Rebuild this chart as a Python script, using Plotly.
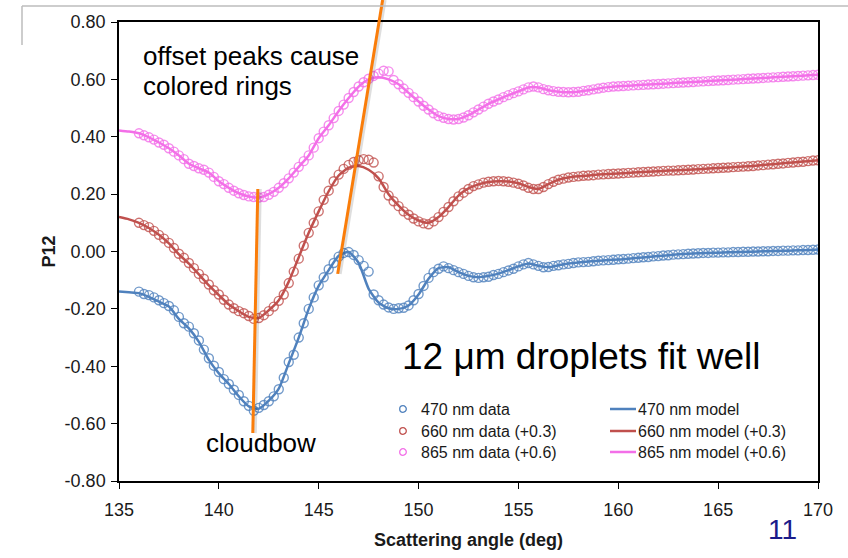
import numpy as np
import plotly.graph_objects as go

# ---------------- data ----------------
wavelengths = ["470 nm", "660 nm", "865 nm"]
offsets = [0.0, 0.3, 0.6]
colors = ["#4F81BD", "#C0504D", "#F36FE8"]

# measured P12 (raw, before offset), angles 136.00 .. 170.00 step 0.25 deg
data_start, data_step = 136.0, 0.25
data_470 = [
    -0.140, -0.148, -0.152, -0.160,
    -0.170, -0.180, -0.190, -0.205,
    -0.228, -0.250, -0.262, -0.285,
    -0.310, -0.342, -0.372, -0.398,
    -0.420, -0.445, -0.462, -0.482,
    -0.500, -0.522, -0.538, -0.555,
    -0.545, -0.535, -0.522, -0.505,
    -0.480, -0.440, -0.385, -0.360,
    -0.300, -0.250, -0.200, -0.160,
    -0.118, -0.090, -0.062, -0.040,
    -0.018, -0.005, -0.002, -0.012,
    -0.030, -0.050, -0.070, -0.150,
    -0.170, -0.185, -0.195, -0.200,
    -0.198, -0.196, -0.188, -0.170,
    -0.148, -0.120, -0.092, -0.072,
    -0.060, -0.052, -0.058, -0.065,
    -0.072, -0.078, -0.085, -0.090,
    -0.092, -0.090, -0.088, -0.082,
    -0.078, -0.072, -0.066, -0.060,
    -0.052, -0.045, -0.040, -0.045,
    -0.050, -0.055, -0.054, -0.050,
    -0.048, -0.045, -0.043, -0.040,
    -0.038, -0.037, -0.036, -0.034,
    -0.032, -0.031, -0.030, -0.029,
    -0.027, -0.026, -0.025, -0.023,
    -0.022, -0.020, -0.019, -0.017,
    -0.016, -0.014, -0.013, -0.011,
    -0.010, -0.009, -0.008, -0.007,
    -0.006, -0.005, -0.005, -0.004,
    -0.004, -0.003, -0.003, -0.002,
    -0.002, -0.001, -0.001, 0.000,
    0.000, 0.001, 0.001, 0.002,
    0.002, 0.003, 0.003, 0.004,
    0.004, 0.005, 0.005, 0.006,
    0.007,
]
data_660 = [
    -0.200, -0.208, -0.215, -0.228,
    -0.242, -0.255, -0.270, -0.288,
    -0.308, -0.322, -0.340, -0.358,
    -0.378, -0.395, -0.415, -0.435,
    -0.450, -0.468, -0.485, -0.498,
    -0.508, -0.515, -0.525, -0.535,
    -0.532, -0.522, -0.508, -0.492,
    -0.472, -0.450, -0.410, -0.370,
    -0.325, -0.280, -0.235, -0.200,
    -0.160, -0.120, -0.088, -0.055,
    -0.032, -0.012, 0.002, 0.012,
    0.018, 0.022, 0.020, 0.010,
    -0.038, -0.075, -0.105, -0.125,
    -0.142, -0.160, -0.172, -0.185,
    -0.195, -0.202, -0.205, -0.195,
    -0.180, -0.162, -0.145, -0.125,
    -0.108, -0.095, -0.082, -0.072,
    -0.066, -0.060, -0.057, -0.055,
    -0.054, -0.055, -0.057, -0.060,
    -0.064, -0.070, -0.078, -0.082,
    -0.082, -0.075, -0.065, -0.057,
    -0.050, -0.046, -0.042, -0.040,
    -0.038, -0.036, -0.035, -0.034,
    -0.032, -0.031, -0.030, -0.029,
    -0.028, -0.027, -0.026, -0.025,
    -0.024, -0.023, -0.022, -0.021,
    -0.020, -0.019, -0.018, -0.018,
    -0.017, -0.016, -0.015, -0.014,
    -0.013, -0.012, -0.011, -0.010,
    -0.009, -0.008, -0.007, -0.006,
    -0.005, -0.004, -0.003, -0.002,
    0.000, 0.001, 0.003, 0.004,
    0.006, 0.007, 0.009, 0.010,
    0.012, 0.013, 0.015, 0.017,
    0.018,
]
data_865 = [
    -0.188, -0.195, -0.202, -0.210,
    -0.220, -0.228, -0.240, -0.252,
    -0.265, -0.278, -0.294, -0.302,
    -0.310, -0.315, -0.325, -0.340,
    -0.355, -0.365, -0.378, -0.388,
    -0.397, -0.403, -0.408, -0.410,
    -0.412, -0.410, -0.402, -0.392,
    -0.378, -0.362, -0.345, -0.325,
    -0.305, -0.285, -0.265, -0.238,
    -0.205, -0.182, -0.160, -0.135,
    -0.110, -0.088, -0.065, -0.044,
    -0.025, -0.010, 0.002, 0.012,
    0.020, 0.030, 0.028, -0.002,
    -0.017, -0.032, -0.047, -0.062,
    -0.077, -0.092, -0.105, -0.118,
    -0.128, -0.134, -0.138, -0.140,
    -0.138, -0.133, -0.125, -0.115,
    -0.105, -0.095, -0.085, -0.077,
    -0.070, -0.062, -0.055, -0.048,
    -0.042, -0.035, -0.028, -0.025,
    -0.028, -0.034, -0.038, -0.041,
    -0.043, -0.044, -0.045, -0.044,
    -0.043, -0.040, -0.038, -0.035,
    -0.032, -0.029, -0.027, -0.025,
    -0.024, -0.023, -0.022, -0.021,
    -0.020, -0.019, -0.018, -0.017,
    -0.016, -0.015, -0.014, -0.013,
    -0.012, -0.011, -0.010, -0.009,
    -0.008, -0.007, -0.006, -0.005,
    -0.004, -0.003, -0.002, -0.001,
    0.000, 0.001, 0.002, 0.003,
    0.004, 0.005, 0.006, 0.007,
    0.008, 0.009, 0.010, 0.011,
    0.012, 0.013, 0.014, 0.015,
    0.016,
]

# model P12 (raw, before offset), angles 135.0 .. 170.0 step 0.5 deg
model_start, model_step = 135.0, 0.5
model_470 = [
    -0.139, -0.142, -0.145, -0.158, -0.175, -0.192, -0.235, -0.268,
    -0.315, -0.378, -0.425, -0.462, -0.505, -0.540, -0.548, -0.520,
    -0.478, -0.390, -0.300, -0.200, -0.120, -0.065, -0.015, -0.002,
    -0.040, -0.130, -0.178, -0.198, -0.200, -0.188, -0.150, -0.095,
    -0.058, -0.055, -0.072, -0.085, -0.090, -0.085, -0.077, -0.065,
    -0.052, -0.042, -0.050, -0.055, -0.048, -0.042, -0.038, -0.035,
    -0.032, -0.030, -0.028, -0.025, -0.022, -0.019, -0.016, -0.013,
    -0.010, -0.008, -0.006, -0.005, -0.004, -0.003, -0.002, -0.001,
    0.000, 0.001, 0.002, 0.003, 0.004, 0.005, 0.007,
]
model_660 = [
    -0.180, -0.188, -0.200, -0.218, -0.242, -0.272, -0.310, -0.342,
    -0.380, -0.418, -0.452, -0.485, -0.508, -0.528, -0.532, -0.505,
    -0.470, -0.405, -0.320, -0.235, -0.160, -0.090, -0.035, -0.008,
    -0.002, -0.015, -0.045, -0.100, -0.140, -0.172, -0.192, -0.200,
    -0.180, -0.145, -0.105, -0.080, -0.066, -0.058, -0.055, -0.056,
    -0.062, -0.075, -0.082, -0.065, -0.050, -0.042, -0.038, -0.035,
    -0.032, -0.030, -0.028, -0.026, -0.024, -0.022, -0.020, -0.018,
    -0.017, -0.015, -0.013, -0.011, -0.009, -0.007, -0.005, -0.003,
    0.000, 0.003, 0.006, 0.009, 0.012, 0.015, 0.018,
]
model_865 = [
    -0.178, -0.182, -0.188, -0.202, -0.220, -0.240, -0.265, -0.294,
    -0.310, -0.325, -0.355, -0.378, -0.397, -0.408, -0.412, -0.400,
    -0.378, -0.345, -0.305, -0.265, -0.205, -0.160, -0.110, -0.065,
    -0.025, 0.000, 0.007, 0.000, -0.017, -0.047, -0.077, -0.105,
    -0.128, -0.138, -0.138, -0.125, -0.105, -0.085, -0.070, -0.055,
    -0.042, -0.028, -0.028, -0.038, -0.043, -0.045, -0.043, -0.038,
    -0.032, -0.027, -0.024, -0.022, -0.020, -0.018, -0.016, -0.014,
    -0.012, -0.010, -0.008, -0.006, -0.004, -0.002, 0.000, 0.002,
    0.004, 0.006, 0.008, 0.010, 0.012, 0.014, 0.016,
]

data_series = [data_470, data_660, data_865]
model_series = [model_470, model_660, model_865]

x_ticks = [135, 140, 145, 150, 155, 160, 165, 170]
y_ticks = [-0.8, -0.6, -0.4, -0.2, 0.0, 0.2, 0.4, 0.6, 0.8]

FONT = "Liberation Sans, Arial, sans-serif"

W, H, L, R, T, B = 848, 558, 119, 30, 22, 77
pw, ph = W - L - R, H - T - B
px = lambda p: (p - L) / pw
py = lambda p: (H - B - p) / ph

fig = go.Figure()

def label(wl, off, kind):
    return f"{wl} {kind}" + (f" (+{off:g})" if off else "")

for wl, off, col, vals in zip(wavelengths, offsets, colors, data_series):
    xs = data_start + data_step * np.arange(len(vals))
    fig.add_trace(go.Scatter(
        x=xs, y=np.array(vals) + off, mode="markers",
        name=label(wl, off, "data"), showlegend=False,
        marker=dict(symbol="circle-open", size=9, color=col, opacity=0.8,
                    line=dict(width=1.4, color=col)),
    ))

for wl, off, col, vals in zip(wavelengths, offsets, colors, model_series):
    xs = model_start + model_step * np.arange(len(vals))
    fig.add_trace(go.Scatter(
        x=xs, y=np.array(vals) + off, mode="lines",
        name=label(wl, off, "model"), showlegend=False,
        line=dict(color=col, width=2.5, shape="spline", smoothing=0.6),
    ))

# ---- manual two-column legend ----
row_y = [409, 431, 452]
for i, (wl, off, col) in enumerate(zip(wavelengths, offsets, colors)):
    yy = py(row_y[i])
    fig.add_shape(type="circle", xref="paper", yref="paper",
                  xsizemode="pixel", ysizemode="pixel",
                  xanchor=px(403), yanchor=yy, x0=-3.3, x1=3.3, y0=-3.3, y1=3.3,
                  line=dict(color=col, width=1.3))
    fig.add_annotation(text=label(wl, off, "data"), x=px(419), y=yy,
                       xref="paper", yref="paper", xanchor="left", yanchor="middle",
                       showarrow=False, font=dict(family=FONT, size=16, color="#1a1a1a"))
    fig.add_shape(type="line", xref="paper", yref="paper",
                  x0=px(610), x1=px(636), y0=yy, y1=yy,
                  line=dict(color=col, width=2.5))
    fig.add_annotation(text=label(wl, off, "model"), x=px(636), y=yy,
                       xref="paper", yref="paper", xanchor="left", yanchor="middle",
                       showarrow=False, font=dict(family=FONT, size=16, color="#1a1a1a"))

orange = "#FA7D0A"
shadow = "rgba(0,0,0,0.13)"
# cloudbow marker line (data coords)
for dx, col, w in [(0.1, shadow, 4), (0, orange, 3)]:
    fig.add_shape(type="line", xref="x", yref="y",
                  x0=141.95 + dx, y0=0.218, x1=141.70 + dx, y1=-0.633,
                  line=dict(color=col, width=w))
# offset peaks line (extends above the plot)
for dx, col, w in [(0.1, shadow, 4), (0, orange, 3)]:
    fig.add_shape(type="line", xref="x", yref="paper",
                  x0=145.95 + dx, y0=(-0.078 + 0.8) / 1.6,
                  x1=148.20 + dx, y1=1.048,
                  line=dict(color=col, width=w))

# slide frame fragments
fig.add_shape(type="line", xref="paper", yref="paper", x0=px(22), y0=py(6),
              x1=px(850), y1=py(6), line=dict(color="#BDBDBD", width=1.5))
fig.add_shape(type="line", xref="paper", yref="paper", x0=px(22), y0=py(6),
              x1=px(22), y1=py(45), line=dict(color="#BDBDBD", width=1.5))

def ann(text, x, y, size, color="black", xanchor="left"):
    fig.add_annotation(text=text, x=x, y=y, xref="paper", yref="paper",
                       xanchor=xanchor, yanchor="middle", showarrow=False,
                       font=dict(family=FONT, size=size, color=color))

ann("offset peaks cause", px(141), py(56), 26)
ann("colored rings", px(141), py(86), 26)
ann("12 \u03bcm droplets fit well", px(400), py(356), 37)
ann("cloudbow", px(204), py(443), 26)
ann("11", px(782), py(529), 28, color="#1B1B8A", xanchor="center")

fig.update_layout(
    width=W, height=H,
    margin=dict(l=L, r=R, t=T, b=B),
    paper_bgcolor="white", plot_bgcolor="white",
    font=dict(family=FONT, size=18, color="#1a1a1a"),
    showlegend=False,
    xaxis=dict(range=[135, 170], tickvals=x_ticks, ticktext=[str(v) for v in x_ticks],
               ticks="outside", ticklen=6, ticklabelstandoff=6,
               tickcolor="black", showline=True, linecolor="black", linewidth=1.5,
               mirror=True, showgrid=False, zeroline=False,
               title=dict(text="<b>Scattering angle (deg)</b>", font=dict(size=18),
                          standoff=14)),
    yaxis=dict(range=[-0.8, 0.8], tickvals=y_ticks,
               ticktext=[f"{v:.2f}" for v in y_ticks], ticks="outside",
               ticklen=6, ticklabelstandoff=2, tickcolor="black", showline=True,
               linecolor="black", linewidth=1.5, mirror=True, showgrid=False,
               zeroline=False,
               title=dict(text="<b>P12</b>", font=dict(size=18), standoff=4)),
)

fig.write_html("out.html")
